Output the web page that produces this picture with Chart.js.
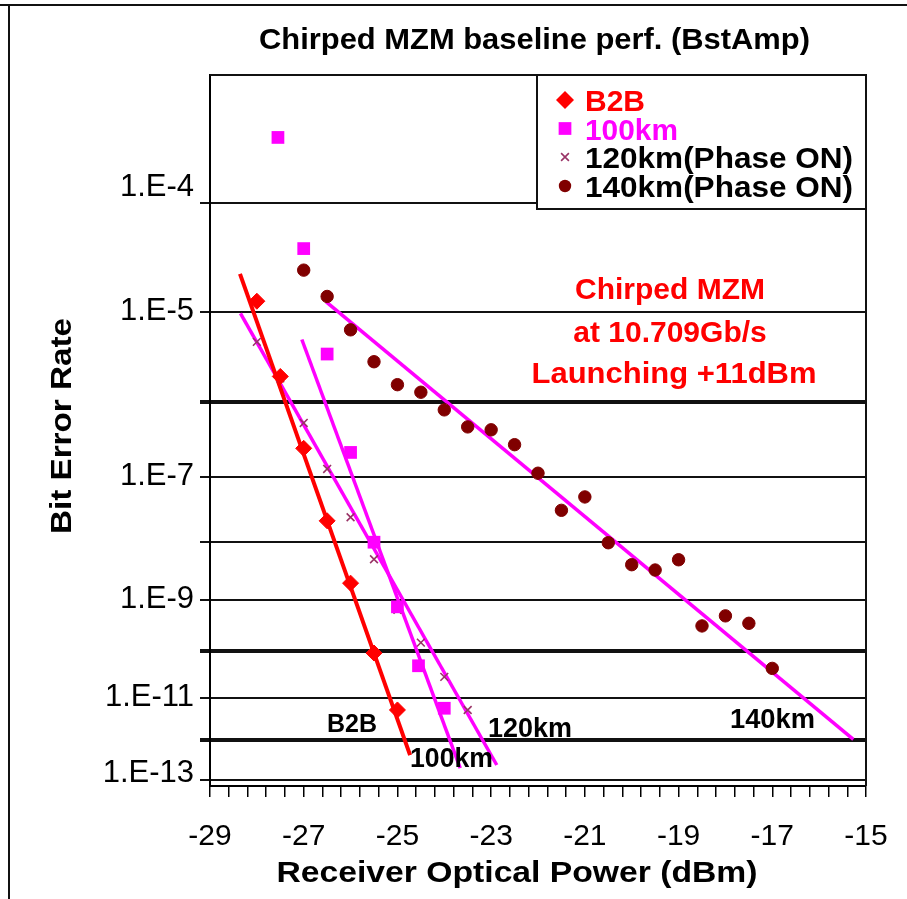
<!DOCTYPE html>
<html>
<head>
<meta charset="utf-8">
<script src="https://cdn.jsdelivr.net/npm/chart.js@4.4.1/dist/chart.umd.min.js"></script>
<style>
html,body{margin:0;padding:0;background:#fff;}
#wrap{width:907px;height:899px;position:relative;}
</style>
</head>
<body>
<div id="wrap"><canvas id="c" width="907" height="899"></canvas></div>
<script>
// ---------- data ----------
const b2bPower = [-28.0, -27.5, -27.0, -26.5, -26.0, -25.5, -25.0];
const b2bBer   = [1.3e-5, 2.0e-6, 2.5e-7, 2.2e-8, 2.0e-9, 9.2e-11, 5.3e-12];

const km100Power = [-27.55, -27.0, -26.5, -26.0, -25.5, -25.0, -24.55, -24.0];
const km100Ber   = [3.2e-4, 4.1e-5, 3.6e-6, 2.2e-7, 1.0e-8, 7.4e-10, 5.0e-11, 5.8e-12];

const km120Power = [-28.0, -27.5, -27.0, -26.5, -26.0, -25.5, -25.0, -24.5, -24.0, -23.5];
const km120Ber   = [4.9e-6, 1.9e-6, 5.4e-7, 1.3e-7, 2.5e-8, 5.2e-9, 6.5e-10, 1.5e-10, 2.9e-11, 5.3e-12];

const km140Power = [-27.0, -26.5, -26.0, -25.5, -25.0, -24.5, -24.0, -23.5, -23.0, -22.5, -22.0,
                    -21.5, -21.0, -20.5, -20.0, -19.5, -19.0, -18.5, -18.0, -17.5, -17.0];
const km140Ber   = [2.6e-5, 1.45e-5, 6.6e-6, 2.95e-6, 1.6e-6, 1.3e-6, 7.9e-7, 4.8e-7, 4.4e-7, 2.8e-7, 1.13e-7,
                    3.2e-8, 5.1e-8, 9.8e-9, 4.2e-9, 3.4e-9, 5.1e-9, 3.2e-10, 5.0e-10, 3.6e-10, 4.4e-11];

// straight fit lines (end points)
const b2bFitPower   = [-28.36, -24.73];  const b2bFitBer   = [2.4e-5, 4.3e-13];
const km100FitPower = [-27.04, -23.66];  const km100FitBer = [5.2e-6, 2.0e-13];
const km120FitPower = [-28.35, -22.88];  const km120FitBer = [9.8e-6, 2.4e-13];
const km140FitPower = [-26.52, -15.27];  const km140FitBer = [1.28e-5, 1.06e-12];

const seriesLabels = ['B2B', '100km', '120km(Phase ON)', '140km(Phase ON)'];
const fitLabels = ['B2B', '100km', '120km', '140km'];

// axes
const xMin = -29, xMax = -15, xMinorStep = 0.4;
const xTickLabels = [-29, -27, -25, -23, -21, -19, -17, -15];
const yTopBer = 8.4e-4, yBottomBer = 6.7e-14;
const yGridBer = [1e-4, 1e-5, 1e-6, 1e-7, 1e-8, 1e-9, 1e-10, 1e-11, 1e-12, 1e-13];
const yTickLabels = ['1.E-4', '1.E-5', '', '1.E-7', '', '1.E-9', '', '1.E-11', '', '1.E-13'];
const yHeavyExp = [6, 10, 12];

const title = 'Chirped MZM baseline perf. (BstAmp)';
const xTitle = 'Receiver Optical Power (dBm)';
const yTitle = 'Bit Error Rate';
const noteLines = ['Chirped MZM', 'at 10.709Gb/s', 'Launching +11dBm'];

// ---------- helpers ----------
const toU = ber => Math.log10(-Math.log10(ber));       // BER scale: log(-log(BER))
const fromU = u => Math.pow(10, -Math.pow(10, u));
const pts = (xs, bs) => xs.map((x, i) => ({x: x, y: toU(bs[i])}));
const FONT = '"Liberation Sans", Arial, Helvetica, sans-serif';

function txt(ctx, s, x, y, o) {
  ctx.save();
  ctx.font = (o.bold ? 'bold ' : '') + o.size + 'px ' + FONT;
  ctx.fillStyle = o.color || '#000';
  ctx.textBaseline = 'alphabetic';
  ctx.textAlign = 'left';
  const w = ctx.measureText(s).width;
  const sx = o.w ? o.w / w : 1;
  ctx.translate(x, y);
  if (o.rot) ctx.rotate(o.rot);
  ctx.scale(sx, 1);
  let dx = 0;
  if (o.align === 'center') dx = -w / 2;
  else if (o.align === 'right') dx = -w;
  ctx.fillText(s, dx, 0);
  ctx.restore();
}

function marker(ctx, style, x, y, r, fill, stroke, lw) {
  ctx.save();
  ctx.fillStyle = fill; ctx.strokeStyle = stroke; ctx.lineWidth = lw || 1;
  ctx.beginPath();
  if (style === 'rectRot') {
    ctx.moveTo(x - r, y); ctx.lineTo(x, y - r); ctx.lineTo(x + r, y); ctx.lineTo(x, y + r); ctx.closePath();
    ctx.fill();
  } else if (style === 'rect') {
    const s = Math.SQRT1_2 * r;
    ctx.rect(x - s, y - s, 2 * s, 2 * s); ctx.fill();
  } else if (style === 'circle') {
    ctx.arc(x, y, r, 0, Math.PI * 2); ctx.fill();
  } else if (style === 'crossRot') {
    const s = Math.SQRT1_2 * r;
    ctx.moveTo(x - s, y - s); ctx.lineTo(x + s, y + s);
    ctx.moveTo(x + s, y - s); ctx.lineTo(x - s, y + s);
    ctx.stroke();
  }
  ctx.restore();
}

// ---------- datasets ----------
const RED = '#ff0000', MAG = '#ff00ff', PLUM = '#993366', MAROON = '#800000';
const pointSets = [
  {label: seriesLabels[0], data: pts(b2bPower, b2bBer), pointStyle: 'rectRot', pointRadius: 8,
   backgroundColor: RED, borderColor: RED, pointBorderWidth: 1, showLine: false, order: 0},
  {label: seriesLabels[1], data: pts(km100Power, km100Ber), pointStyle: 'rect', pointRadius: 9,
   backgroundColor: MAG, borderColor: MAG, pointBorderWidth: 0, showLine: false, order: 0},
  {label: seriesLabels[2], data: pts(km120Power, km120Ber), pointStyle: 'crossRot', pointRadius: 5.5,
   backgroundColor: PLUM, borderColor: PLUM, pointBorderWidth: 1.6, showLine: false, order: 0},
  {label: seriesLabels[3], data: pts(km140Power, km140Ber), pointStyle: 'circle', pointRadius: 6.2,
   backgroundColor: MAROON, borderColor: MAROON, pointBorderWidth: 1, showLine: false, order: 0}
];
const fitSets = [
  {label: fitLabels[0] + ' fit', data: pts(b2bFitPower, b2bFitBer), borderColor: RED, borderWidth: 4},
  {label: fitLabels[1] + ' fit', data: pts(km100FitPower, km100FitBer), borderColor: MAG, borderWidth: 3.5},
  {label: fitLabels[2] + ' fit', data: pts(km120FitPower, km120FitBer), borderColor: MAG, borderWidth: 3.5},
  {label: fitLabels[3] + ' fit', data: pts(km140FitPower, km140FitBer), borderColor: MAG, borderWidth: 3.5}
].map(d => Object.assign(d, {showLine: true, pointRadius: 0, fill: false, tension: 0, order: 1}));

// ---------- decorations plugin ----------
const deco = {
  id: 'deco',
  beforeDraw(chart) {
    const ctx = chart.ctx;
    ctx.save(); ctx.fillStyle = '#fff'; ctx.fillRect(0, 0, chart.width, chart.height); ctx.restore();
  },
  afterDatasetsDraw(chart) {
    const {ctx, chartArea: ca} = chart;
    // plot frame (top + right)
    ctx.save();
    ctx.strokeStyle = '#111'; ctx.lineWidth = 2;
    ctx.beginPath();
    ctx.moveTo(ca.left, ca.top); ctx.lineTo(ca.right, ca.top); ctx.lineTo(ca.right, ca.bottom);
    ctx.stroke();
    // outer picture frame (top + left)
    ctx.beginPath();
    ctx.moveTo(0, 5); ctx.lineTo(chart.width, 5);
    ctx.moveTo(9, 5); ctx.lineTo(9, chart.height);
    ctx.stroke();
    ctx.restore();

    // legend box
    const lx = 537, ly = ca.top, lw = ca.right - 537, lh = 134;
    ctx.save();
    ctx.fillStyle = '#fff'; ctx.fillRect(lx, ly, lw, lh);
    ctx.strokeStyle = '#111'; ctx.lineWidth = 2; ctx.strokeRect(lx, ly, lw, lh);
    ctx.restore();
    const rows = [100, 128.5, 157, 186];
    const legendColors = [RED, MAG, '#000', '#000'];
    const legendW = [60, 93, 268, 268];
    pointSets.forEach((d, i) => {
      const r = d.pointStyle === 'rectRot' ? 9 : d.pointRadius;
      marker(ctx, d.pointStyle, 565, rows[i], r, d.backgroundColor, d.borderColor, d.pointBorderWidth);
      txt(ctx, d.label, 585, rows[i] + 11, {bold: true, size: 30, color: legendColors[i], w: legendW[i]});
    });
  },
  afterDraw(chart) {
    const {ctx, chartArea: ca, scales} = chart;
    const ys = scales.y, xs = scales.x;
    // title
    txt(ctx, title, 259, 49, {bold: true, size: 30, w: 551});
    // axis titles
    txt(ctx, xTitle, 517, 882, {bold: true, size: 30, align: 'center', w: 481});
    txt(ctx, yTitle, 71, 426, {bold: true, size: 30, align: 'center', rot: -Math.PI / 2, w: 216});
    // x tick labels
    xTickLabels.forEach(v => {
      txt(ctx, String(v), xs.getPixelForValue(v), 845, {size: 30, align: 'center'});
    });
    // y tick labels
    yGridBer.forEach((b, i) => {
      const s = yTickLabels[i];
      if (!s) return;
      let py = ys.getPixelForValue(toU(b));
      let off = -3;
      if (i === 0) off = -18;
      if (i === yGridBer.length - 1) off = -9;
      txt(ctx, s, 194, py + off + 11, {size: 31, align: 'right'});
    });
    // annotation
    txt(ctx, noteLines[0], 670, 299, {bold: true, size: 30, color: RED, align: 'center'});
    txt(ctx, noteLines[1], 670, 342, {bold: true, size: 30, color: RED, align: 'center'});
    txt(ctx, noteLines[2], 674, 383, {bold: true, size: 30, color: RED, align: 'center', w: 285});
    // curve labels
    txt(ctx, fitLabels[0], 327, 732, {bold: true, size: 25, w: 50});
    txt(ctx, fitLabels[1], 410, 767, {bold: true, size: 27, w: 83});
    txt(ctx, fitLabels[2], 488, 737, {bold: true, size: 27, w: 84});
    txt(ctx, fitLabels[3], 730, 728, {bold: true, size: 27, w: 85});
  }
};

// ---------- chart ----------
const heavy = ctx => {
  if (!ctx.tick) return 2;
  const e = Math.round(-Math.log10(fromU(ctx.tick.value)));
  return yHeavyExp.indexOf(e) >= 0 ? 4 : 2;
};

new Chart(document.getElementById('c'), {
  type: 'scatter',
  data: {datasets: pointSets.concat(fitSets)},
  plugins: [deco],
  options: {
    responsive: false,
    devicePixelRatio: 1,
    animation: false,
    layout: {padding: {left: 0, top: 75, right: 41, bottom: 0}},
    plugins: {legend: {display: false}, tooltip: {enabled: false}, title: {display: false}},
    scales: {
      x: {
        type: 'linear', min: xMin, max: xMax,
        afterBuildTicks: s => {
          const t = [];
          const n = Math.round((xMax - xMin) / xMinorStep);
          for (let i = 0; i <= n; i++) t.push({value: xMin + i * xMinorStep});
          s.ticks = t;
        },
        afterFit: s => { s.height = 113; },
        ticks: {display: false},
        grid: {display: true, drawOnChartArea: false, drawTicks: true, tickLength: 11, color: '#000', lineWidth: 1.5},
        border: {display: true, color: '#000', width: 2}
      },
      y: {
        type: 'linear', reverse: true, min: toU(yTopBer), max: toU(yBottomBer),
        afterBuildTicks: s => { s.ticks = yGridBer.map(b => ({value: toU(b)})); },
        afterFit: s => { s.width = 210; },
        ticks: {display: false},
        grid: {display: true, drawOnChartArea: true, drawTicks: true, tickLength: 10,
               color: '#111', lineWidth: heavy},
        border: {display: true, color: '#000', width: 2}
      }
    }
  }
});
</script>
</body>
</html>
